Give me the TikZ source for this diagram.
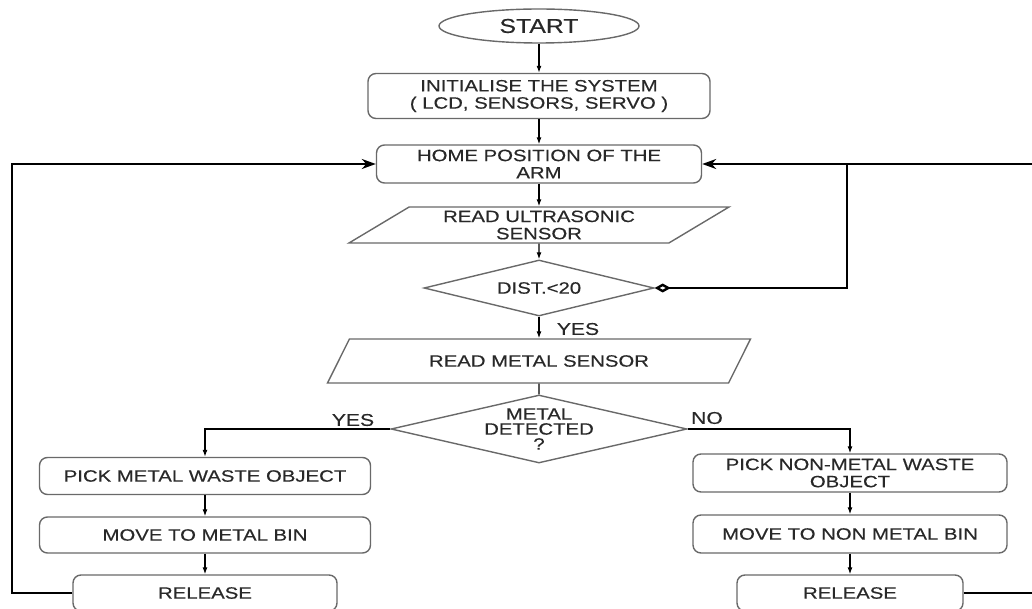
\documentclass[tikz,border=0pt]{standalone}
\usepackage{fontspec}
\setmainfont{Liberation Sans}[FakeStretch=1.24, FakeBold=0.35]
\usepackage{tikz}
\usetikzlibrary{arrows.meta, positioning, shapes.geometric}
\definecolor{boxgray}{RGB}{105,105,105}
\definecolor{textgray}{RGB}{40,40,40}

\begin{document}
\begin{tikzpicture}[x=1pt, y=-1pt,
    every node/.style={font=\fontsize{16.4}{17.2}\selectfont, text=textgray, align=center},
    procbox/.style={draw=boxgray, line width=1.4pt, rectangle, rounded corners=8pt, inner sep=0pt},
    iobox/.style={draw=boxgray, line width=1.4pt, trapezium, trapezium stretches body, inner sep=0pt},
    decbox/.style={draw=boxgray, line width=1.4pt, diamond, inner sep=0pt},
    flow/.style={line width=1.2pt, -{Latex[length=7pt, width=5pt]}},
    loopline/.style={line width=2.4pt, -{Stealth[length=14pt, width=10pt]}},
    lbl/.style={font=\fontsize{17}{18}\selectfont}]
  \useasboundingbox (0,0) rectangle (1032,609);
  \clip (0,0) rectangle (1032,609);

  \node[draw=boxgray, line width=1.4pt, ellipse, minimum width=200pt, minimum height=34pt,
        inner sep=0pt, font=\fontsize{20}{22}\selectfont] (start) at (539,26) {START};
  \node[procbox, minimum width=342pt, minimum height=45pt] (init) at (539,96)
    {INITIALISE THE SYSTEM\\( LCD, SENSORS, SERVO )};
  \node[procbox, minimum width=325pt, minimum height=38pt] (home) at (539,164)
    {HOME POSITION OF THE\\ARM};
  \node[iobox, trapezium left angle=25.6, trapezium right angle=154.4,
        minimum width=380pt, minimum height=36pt] (us) at (539,225) {READ ULTRASONIC\\SENSOR};
  \node[decbox, shape aspect=4.1, minimum width=230pt, minimum height=56pt] (dist) at (539,288) {DIST.<20};
  \node[iobox, trapezium left angle=27.9, trapezium right angle=152.1,
        minimum width=423pt, minimum height=44pt] (ms) at (539,361) {READ METAL SENSOR};
  \node[decbox, shape aspect=4.35, minimum width=296pt, minimum height=68pt,
        font=\fontsize{16.4}{15}\selectfont] (metal) at (539,429) {METAL\\DETECTED\\?};

  \node[procbox, minimum width=331pt, minimum height=37pt] (pickm) at (205,476) {PICK METAL WASTE OBJECT};
  \node[procbox, minimum width=331pt, minimum height=36pt] (movem) at (205,535) {MOVE TO METAL BIN};
  \node[procbox, minimum width=264pt, minimum height=36pt] (relm) at (205,593) {RELEASE};
  \node[procbox, minimum width=314pt, minimum height=38pt] (pickn) at (850,473) {PICK NON-METAL WASTE\\OBJECT};
  \node[procbox, minimum width=314pt, minimum height=38pt] (moven) at (850,534) {MOVE TO NON METAL BIN};
  \node[procbox, minimum width=226pt, minimum height=36pt] (reln) at (850,593) {RELEASE};

  \node[lbl] (yesdist) at (578,329) {YES};
  \node[lbl] (yesmetal) at (353,420) {YES};
  \node[lbl] (nometal) at (707,418) {NO};

  \coordinate (lbend) at (12,593);
  \coordinate (rbend) at (1045,593);
  \coordinate (rjoin) at (847,164);

  \draw[flow] (start) -- (init);
  \draw[flow] (init) -- (home);
  \draw[flow] (home) -- (us);
  \draw[flow] (us) -- (dist);
  \draw[flow] (dist) -- (ms);
  \draw[line width=1.2pt] (ms) -- (metal);
  \draw[flow] (metal.west) -| (pickm);
  \draw[flow] (metal.east) -| (pickn);
  \draw[flow] (pickm) -- (movem);
  \draw[flow] (movem) -- (relm);
  \draw[flow] (pickn) -- (moven);
  \draw[flow] (moven) -- (reln);

  \draw[loopline] (relm.west) -- (lbend) |- (home.west);
  \draw[loopline] (reln.east) -- (rbend) |- (home.east);
  \draw[line width=2.4pt, {Diamond[open, length=16pt, width=9pt]}-] (dist.east) -| (rjoin);
\end{tikzpicture}
\end{document}
